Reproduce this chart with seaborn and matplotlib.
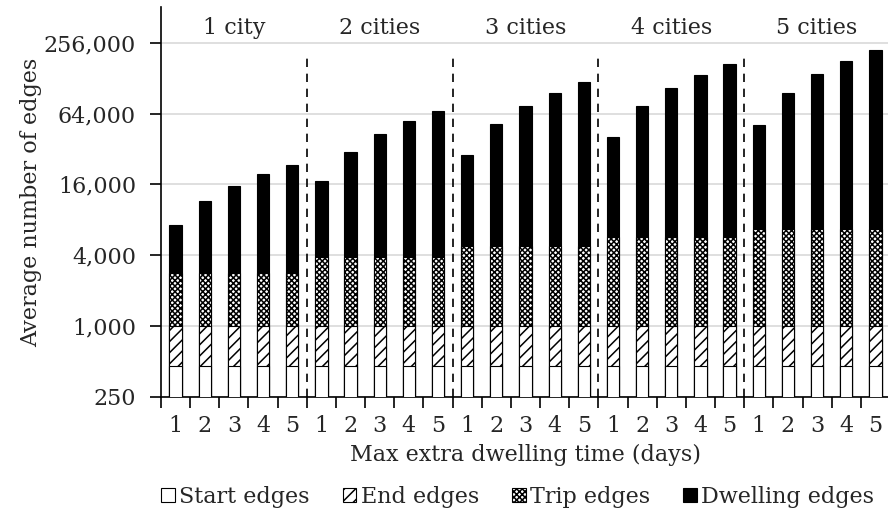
import numpy as np
import pandas as pd
import matplotlib
matplotlib.use("Agg")
import matplotlib.pyplot as plt
import matplotlib.ticker as mticker
from matplotlib.patches import Patch
import seaborn as sns

# ---- data ----
groups = ["1 city", "2 cities", "3 cities", "4 cities", "5 cities"]
days = ["1", "2", "3", "4", "5"]
start_edges = [460] * 25
end_edges = [540] * 25
trip_edges = [1800] * 5 + [2830] * 5 + [3780] * 5 + [4730] * 5 + [5670] * 5
dwelling_edges = [4410, 8670, 12760, 16780, 20690,
                  13320, 26440, 38670, 51120, 63400,
                  23790, 47220, 69720, 91520, 113020,
                  34670, 68270, 100270, 131270, 163070,
                  44630, 88830, 132330, 172130, 213830]
series_names = ["Start edges", "End edges", "Trip edges", "Dwelling edges"]
y_ticks = [250, 1000, 4000, 16000, 64000, 256000]

sns.set_style("white")
plt.rcParams['font.family'] = ['DejaVu Serif']
plt.rcParams['hatch.linewidth'] = 1.1
fs = 16

pos = [str(i) for i in range(25)]
df = pd.DataFrame({"pos": pos,
                   "start": start_edges, "end": end_edges,
                   "trip": trip_edges, "dwell": dwelling_edges})
df["c_start"] = df["start"]
df["c_end"] = df["c_start"] + df["end"]
df["c_trip"] = df["c_end"] + df["trip"]
df["c_dwell"] = df["c_trip"] + df["dwell"]

fig = plt.figure(figsize=(8.88, 5.2), dpi=100)
ax = fig.add_axes([161 / 888, 1 - 396.7 / 520, (890 - 161) / 888, (396.7 - 7.3) / 520])
ax.set_yscale("log", base=2)

layers = [("c_dwell", "black", None),
          ("c_trip", "white", "xxxxxx"),
          ("c_end", "white", "///"),
          ("c_start", "white", None)]
for col, fc, hatch in layers:
    sns.barplot(data=df, x="pos", y=col, order=pos, color=fc, edgecolor="black",
                linewidth=0.8, width=0.42, hatch=hatch, ax=ax, saturation=1,
                errorbar=None, zorder=3)

ax.set_ylim(250, 512000)
ax.set_xlim(-0.5, 24.5)
ax.yaxis.set_major_locator(mticker.FixedLocator(y_ticks))
ax.yaxis.set_minor_locator(mticker.NullLocator())
ax.yaxis.set_major_formatter(mticker.FuncFormatter(lambda v, p: f"{int(round(v)):,}"))
ax.grid(axis="y", color="#d9d9d9", linewidth=1.2, zorder=0)
ax.set_axisbelow(True)

# x ticks: boundaries as major ticks, labels at bar centres (minor)
ax.xaxis.set_major_locator(mticker.FixedLocator(np.arange(-0.5, 25, 1)))
ax.xaxis.set_major_formatter(mticker.NullFormatter())
ax.xaxis.set_minor_locator(mticker.FixedLocator(np.arange(25)))
ax.xaxis.set_minor_formatter(mticker.FixedFormatter(days * 5))
ax.tick_params(axis="x", which="major", bottom=True, direction="out", length=8,
               width=1.2, color="black")
ax.tick_params(axis="x", which="minor", bottom=True, length=0, pad=13, labelsize=fs)
ax.tick_params(axis="y", which="major", left=True, direction="out", length=8, width=1.2,
               color="black", pad=10, labelsize=fs)

for side in ["top", "right"]:
    ax.spines[side].set_visible(False)
for side in ["left", "bottom"]:
    ax.spines[side].set_color("black")
    ax.spines[side].set_linewidth(1.2)

ax.set_xlabel("Max extra dwelling time (days)", fontsize=fs, labelpad=5)
ax.set_ylabel("Average number of edges", fontsize=fs, labelpad=1)

for g in range(1, 5):
    ax.axvline(g * 5 - 0.5, ymin=0, ymax=0.885, color="black", linestyle=(0, (5, 4)),
               linewidth=1.2, zorder=4)
for g, name in enumerate(groups):
    ax.text(g * 5 + 2, 0.947, name, transform=ax.get_xaxis_transform(),
            ha="center", va="center", fontsize=fs)

handles = [Patch(facecolor="white", edgecolor="black", linewidth=0.8),
           Patch(facecolor="white", edgecolor="black", hatch="///", linewidth=0.8),
           Patch(facecolor="white", edgecolor="black", hatch="xxxxxx", linewidth=0.8),
           Patch(facecolor="black", edgecolor="black", linewidth=0.8)]
fig.legend(handles, series_names, loc="center", bbox_to_anchor=(0.583, 0.045),
           ncol=4, frameon=False, fontsize=fs, handlelength=0.6, handleheight=0.6,
           handletextpad=0.2, columnspacing=1.5, borderaxespad=0)

fig.savefig("out.png", dpi=100)
